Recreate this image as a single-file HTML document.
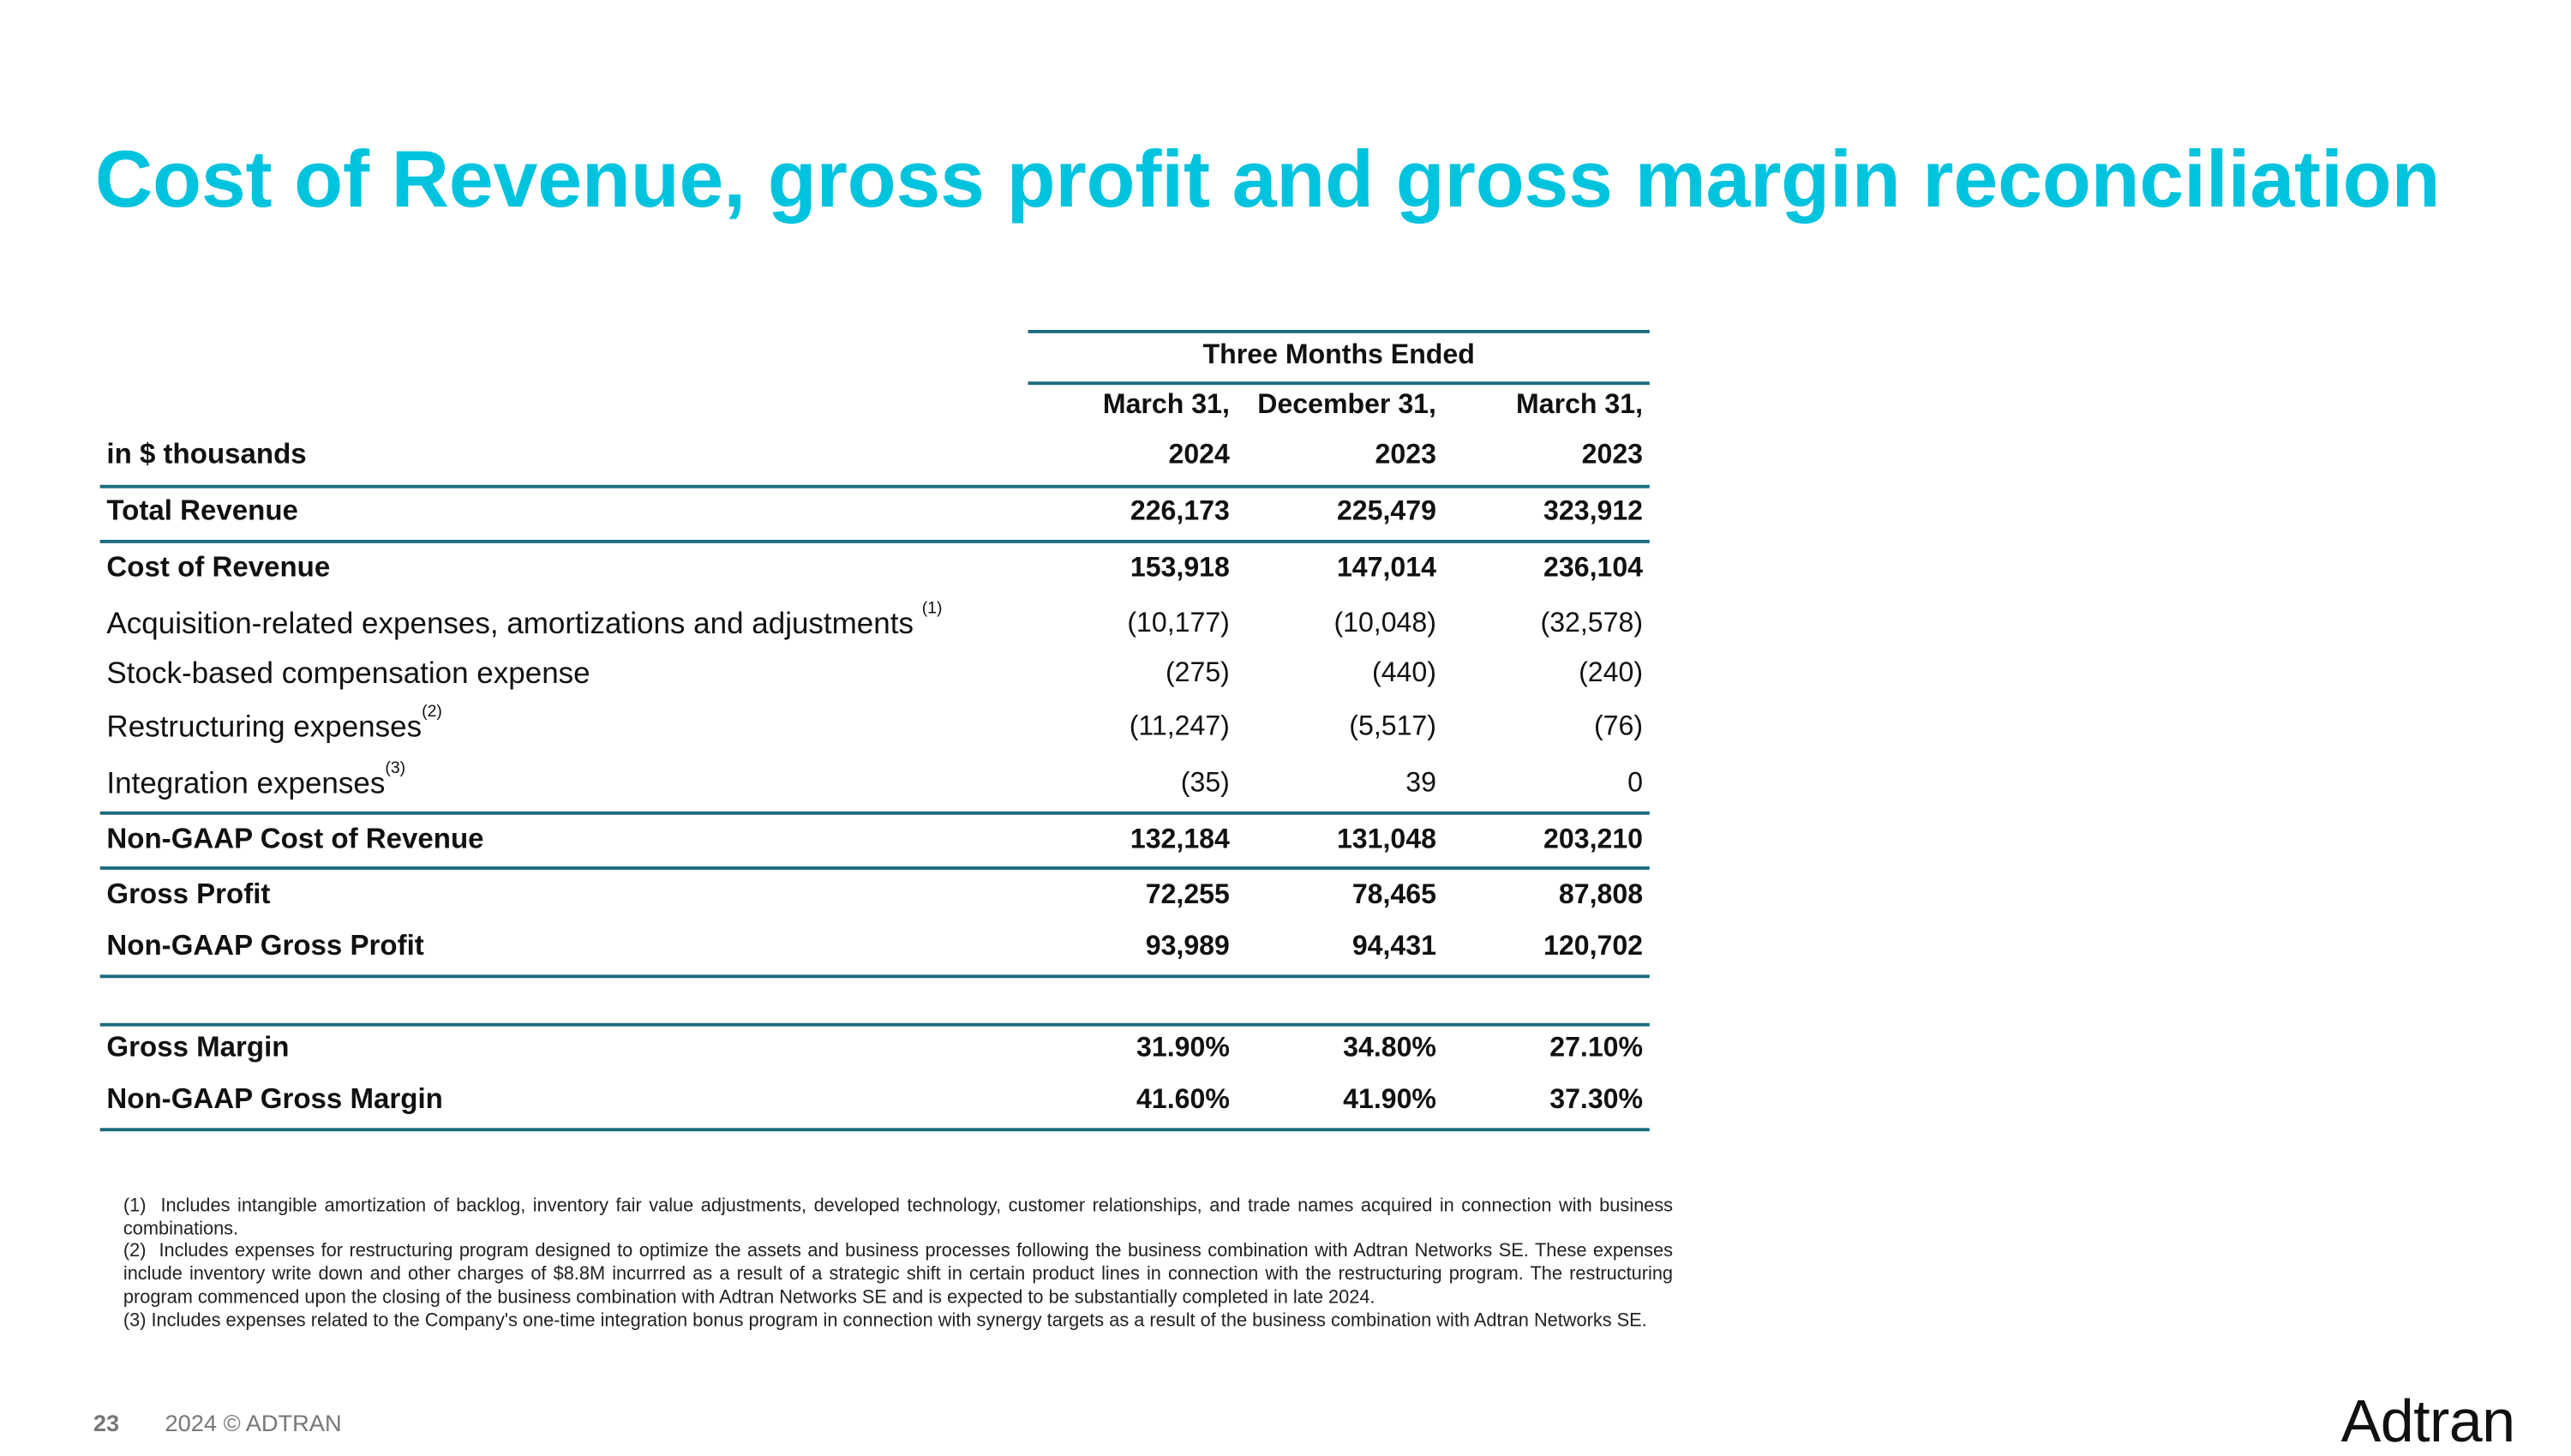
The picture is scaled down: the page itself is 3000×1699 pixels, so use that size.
<!DOCTYPE html>
<html><head><meta charset="utf-8">
<style>
html,body{margin:0;padding:0;background:#fff;overflow:hidden;}
#page{position:absolute;left:0;top:0;width:1543px;height:868px;transform:scale(1.94426);transform-origin:0 0;font-family:"Liberation Sans",sans-serif;}
.abs{position:absolute;white-space:nowrap;}
.title{left:57px;top:81px;font-size:48px;font-weight:bold;color:#00c3de;letter-spacing:-0.1px;}
.hl{position:absolute;height:2px;background:#1b6b7e;}
.cell{position:absolute;font-size:16.5px;color:#111;line-height:20px;height:20px;white-space:nowrap;}
.lab{left:64px;font-size:18px;}
.lab.b{font-size:17px;}
.b{font-weight:bold;}
.num{text-align:right;width:120px;}
sup{font-size:10px;vertical-align:top;line-height:0;position:relative;top:2px;}
.fn{position:absolute;left:74px;width:930px;font-size:11.2px;line-height:13.9px;color:#222;text-align:justify;}
</style></head><body>
<div id="page">
<div class="abs title">Cost of Revenue, gross profit and gross margin reconciliation</div>

<div class="hl" style="left:617px;top:198px;width:373px"></div>
<div class="hl" style="left:617px;top:229px;width:373px"></div>
<div class="hl" style="left:60px;top:291px;width:930px"></div>
<div class="hl" style="left:60px;top:324px;width:930px"></div>
<div class="hl" style="left:60px;top:487px;width:930px"></div>
<div class="hl" style="left:60px;top:520px;width:930px"></div>
<div class="hl" style="left:60px;top:585px;width:930px"></div>
<div class="hl" style="left:60px;top:614px;width:930px"></div>
<div class="hl" style="left:60px;top:677px;width:930px"></div>

<div class="cell b" style="left:617px;width:373px;text-align:center;top:203px">Three Months Ended</div>

<div id="rows"></div>

<div class="fn" style="top:718px">(1)&nbsp; Includes intangible amortization of backlog, inventory fair value adjustments, developed technology, customer relationships, and trade names acquired in connection with business combinations.</div>
<div class="fn" style="top:745px">(2)&nbsp; Includes expenses for restructuring program designed to optimize the assets and business processes following the business combination with Adtran Networks SE. These expenses include inventory write down and other charges of $8.8M incurrred as a result of a strategic shift in certain product lines in connection with the restructuring program. The restructuring program commenced upon the closing of the business combination with Adtran Networks SE and is expected to be substantially completed in late 2024.</div>
<div class="fn" style="top:787px">(3) Includes expenses related to the Company's one-time integration bonus program in connection with synergy targets as a result of the business combination with Adtran Networks SE.</div>

<div class="abs" style="left:56px;top:846px;font-size:14px;font-weight:bold;color:#777">23</div>
<div class="abs" style="left:99px;top:846px;font-size:14px;color:#777">2024 © ADTRAN</div>
<div class="abs" style="left:1405px;top:832px;font-size:36px;color:#111;letter-spacing:-0.3px">Adtran</div>
</div>
<script>
const rowLabels=["","in $ thousands","Total Revenue","Cost of Revenue","Acquisition-related expenses, amortizations and adjustments <sup>(1)</sup>","Stock-based compensation expense","Restructuring expenses<sup>(2)</sup>","Integration expenses<sup>(3)</sup>","Non-GAAP Cost of Revenue","Gross Profit","Non-GAAP Gross Profit","Gross Margin","Non-GAAP Gross Margin"];
const col1=["March 31,","2024","226,173","153,918","(10,177)","(275)","(11,247)","(35)","132,184","72,255","93,989","31.90%","41.60%"];
const col2=["December 31,","2023","225,479","147,014","(10,048)","(440)","(5,517)","39","131,048","78,465","94,431","34.80%","41.90%"];
const col3=["March 31,","2023","323,912","236,104","(32,578)","(240)","(76)","0","203,210","87,808","120,702","27.10%","37.30%"];
const rowY=[243,273,307,341,374,404,436,470,504,537,568,629,660];
const boldRow=[true,true,true,true,false,false,false,false,true,true,true,true,true];
const colRight=[738,862,986];
const root=document.getElementById('rows');
rowLabels.forEach((l,i)=>{
  if(l){
    const d=document.createElement('div');
    d.className='cell lab'+(boldRow[i]?' b':'');
    d.style.top=(rowY[i]-10)+'px';
    d.innerHTML=l;
    
    
    root.appendChild(d);
  }
  [col1,col2,col3].forEach((c,j)=>{
    const v=document.createElement('div');
    v.className='cell num'+(boldRow[i]?' b':'');
    v.style.left=(colRight[j]-120)+'px';
    v.style.top=(rowY[i]-10)+'px';
    v.textContent=c[i];
    
    
    root.appendChild(v);
  });
});
</script>
</body></html>
